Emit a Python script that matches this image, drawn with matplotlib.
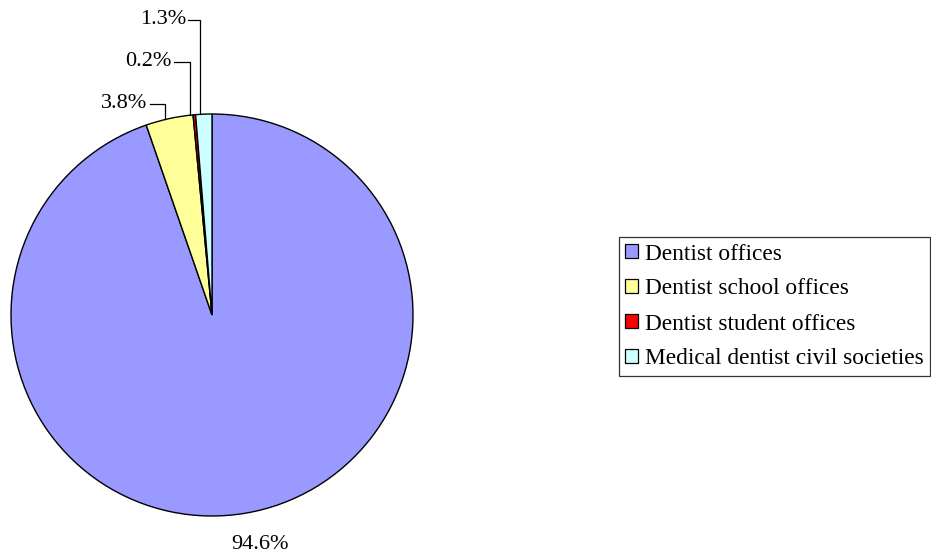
import numpy as np
from matplotlib import pyplot as plt
from matplotlib.patches import Patch

plt.rcParams["font.family"] = ["Liberation Serif", "DejaVu Serif"]

# data
labels = ["Dentist offices", "Dentist school offices", "Dentist student offices",
          "Medical dentist civil societies"]
shares = [94.6, 3.8, 0.2, 1.3]
colors = ["#9999FF", "#FFFF99", "#FF0000", "#CCFFFF"]

fig = plt.figure(figsize=(9.31, 5.55), dpi=100)
ax = fig.add_axes([11 / 931, 39 / 555, 402 / 931, 402 / 555])
wedges, _ = ax.pie(shares, colors=colors, startangle=90, counterclock=False,
                   radius=1.0, wedgeprops=dict(edgecolor="black", linewidth=1.0))
ax.set_xlim(-1, 1)
ax.set_ylim(-1, 1)
ax.set_aspect("equal")
ax.axis("off")

# big slice label, sits just outside the arc without a leader
w = wedges[0]
mid = np.deg2rad((w.theta1 + w.theta2) / 2)
ax.text(1.15 * np.cos(mid) + 0.05, 1.15 * np.sin(mid) - 0.01, f"{shares[0]:.1f}%",
        ha="center", va="center", fontsize=16, clip_on=False)

# small slices: elbow leader lines going up to labels
# (label x right end, label y) in axes data units
label_pos = {1: (-0.31, 1.05), 2: (-0.19, 1.26), 3: (-0.12, 1.47)}
for i, (lx, ly) in label_pos.items():
    w = wedges[i]
    mid = np.deg2rad((w.theta1 + w.theta2) / 2)
    px, py = np.cos(mid), np.sin(mid)
    ax.plot([lx, px - 0.02, px - 0.02], [ly, ly, py], color="black", lw=0.9,
            clip_on=False)
    ax.text(lx - 0.01, ly, f"{shares[i]:.1f}%", ha="right", va="center",
            fontsize=16, clip_on=False)

handles = [Patch(facecolor=c, edgecolor="black", linewidth=0.9) for c in colors]
leg = fig.legend(handles, labels, loc="center left",
                 bbox_to_anchor=(619 / 931, 1 - 306.5 / 555),
                 bbox_transform=fig.transFigure, fontsize=16.8, frameon=True,
                 fancybox=False, edgecolor="black", handlelength=0.55,
                 handleheight=0.55, handletextpad=0.3, labelspacing=0.6,
                 borderpad=0.27, borderaxespad=0)
leg.get_frame().set_linewidth(0.9)

fig.savefig("out.png", dpi=100)
